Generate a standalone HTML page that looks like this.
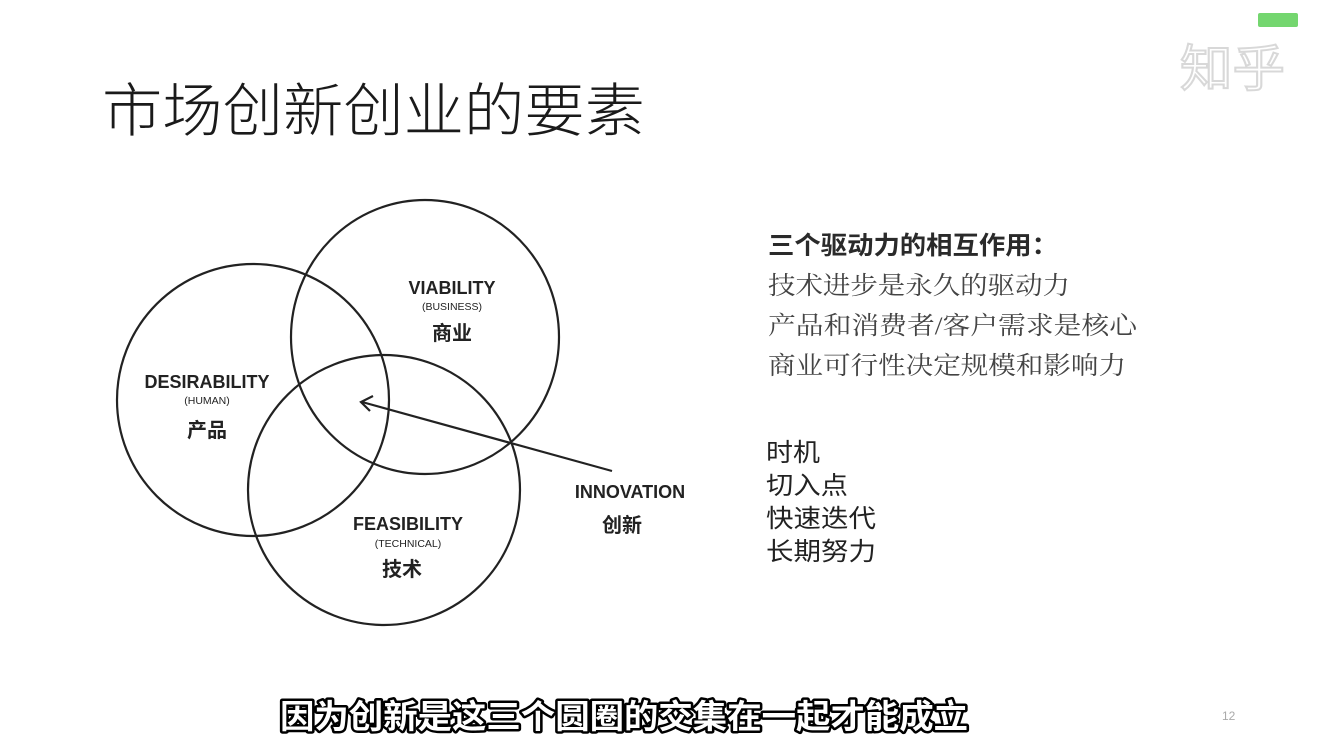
<!DOCTYPE html>
<html><head><meta charset="utf-8"><style>
html,body{margin:0;padding:0;background:#fff;}
svg{display:block;}
.cjk{font-family:"Liberation Sans","Noto Sans CJK SC",sans-serif;}
.ser{font-family:"Liberation Serif","Noto Serif CJK SC",serif;}
</style></head><body>
<svg width="1334" height="750" viewBox="0 0 1334 750" xmlns="http://www.w3.org/2000/svg">
<rect width="1334" height="750" fill="#fff"/>
<rect x="1258" y="13" width="40" height="14" rx="2" fill="#74d66f"/>
<text x="1180" y="86" class="cjk" font-size="50" fill="#fff" stroke="#d8d8d8" stroke-width="2" textLength="105" lengthAdjust="spacingAndGlyphs">知乎</text>
<text x="102" y="131" class="cjk" font-size="58" font-weight="300" fill="#1a1a1a" textLength="543" lengthAdjust="spacingAndGlyphs">市场创新创业的要素</text>
<g fill="none" stroke="#222" stroke-width="2.2">
<ellipse cx="253" cy="400" rx="136" ry="136"/>
<ellipse cx="425" cy="337" rx="134" ry="137"/>
<ellipse cx="384" cy="490" rx="136" ry="135"/>
<line x1="612" y1="471" x2="362" y2="402"/>
<polyline points="373,396 361,402 370,411"/>
</g>
<g font-family="Liberation Sans, sans-serif" fill="#222" text-anchor="middle" font-weight="bold">
<text x="452" y="294" font-size="18">VIABILITY</text>
<text x="452" y="310" font-size="10.5" font-weight="normal">(BUSINESS)</text>
<text x="452" y="340" class="cjk" font-size="20">商业</text>
<text x="207" y="388" font-size="18">DESIRABILITY</text>
<text x="207" y="404" font-size="10.5" font-weight="normal">(HUMAN)</text>
<text x="207" y="437" class="cjk" font-size="20">产品</text>
<text x="408" y="530" font-size="18">FEASIBILITY</text>
<text x="408" y="547" font-size="10.5" font-weight="normal">(TECHNICAL)</text>
<text x="402" y="576" class="cjk" font-size="20">技术</text>
<text x="630" y="498" font-size="18">INNOVATION</text>
<text x="622" y="532" class="cjk" font-size="20">创新</text>
</g>
<g fill="#333" font-size="25">
<text x="768" y="254" class="cjk" font-weight="bold" fill="#2a2a2a" textLength="290" lengthAdjust="spacingAndGlyphs">三个驱动力的相互作用：</text>
<text x="768" y="294" class="ser" fill="#444" textLength="302" lengthAdjust="spacingAndGlyphs">技术进步是永久的驱动力</text>
<text x="768" y="334" class="ser" fill="#444" textLength="369" lengthAdjust="spacingAndGlyphs">产品和消费者/客户需求是核心</text>
<text x="768" y="374" class="ser" fill="#444" textLength="358" lengthAdjust="spacingAndGlyphs">商业可行性决定规模和影响力</text>
<text x="766" y="461" class="cjk" fill="#222" textLength="54" lengthAdjust="spacingAndGlyphs">时机</text>
<text x="766" y="494" class="cjk" fill="#222" textLength="82" lengthAdjust="spacingAndGlyphs">切入点</text>
<text x="766" y="527" class="cjk" fill="#222" textLength="110" lengthAdjust="spacingAndGlyphs">快速迭代</text>
<text x="766" y="560" class="cjk" fill="#222" textLength="110" lengthAdjust="spacingAndGlyphs">长期努力</text>
</g>
<text x="280" y="728" class="cjk" font-size="33" font-weight="bold" fill="#fff" stroke="#000" stroke-width="5" paint-order="stroke" stroke-linejoin="round" textLength="688" lengthAdjust="spacingAndGlyphs">因为创新是这三个圆圈的交集在一起才能成立</text>
<text x="1222" y="720" font-family="Liberation Sans, sans-serif" font-size="12" fill="#aaa">12</text>
</svg>
</body></html>
